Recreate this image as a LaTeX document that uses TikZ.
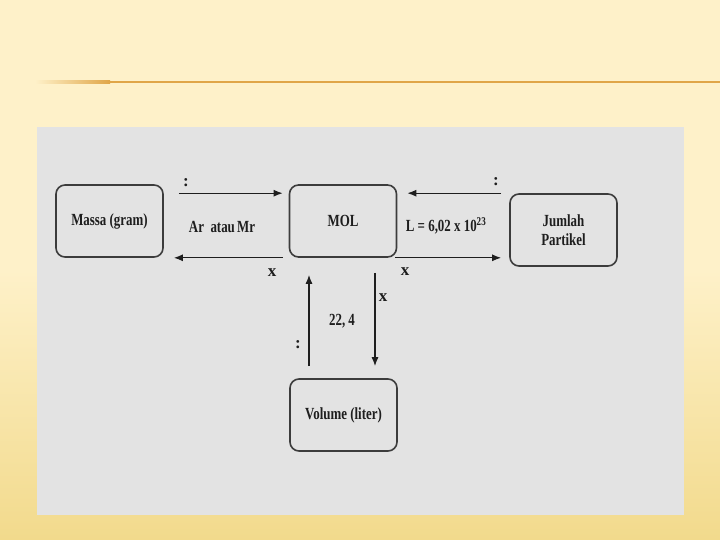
\documentclass[tikz,border=0pt]{standalone}
\usepackage{fontspec}
\usepackage{graphicx}
\setmainfont{Liberation Serif}
\usetikzlibrary{arrows.meta,calc}
\definecolor{cream}{RGB}{254,241,201}
\definecolor{creamlow}{RGB}{242,218,140}
\definecolor{panel}{RGB}{227,227,227}
\definecolor{rule}{RGB}{224,166,72}
\definecolor{ink}{RGB}{30,30,30}
\definecolor{edge}{RGB}{60,60,60}
\newcommand{\cnd}[1]{\scalebox{0.76}[1]{#1}}
\tikzset{
  x=1pt, y=1pt,
  box/.style={draw=edge, line width=1.6pt, rounded corners=9pt, minimum width=107pt, minimum height=72pt, inner sep=0pt, align=center, text=ink, font=\bfseries\fontsize{17}{20}\selectfont},
  lbl/.style={text=ink, inner sep=0pt, font=\bfseries\fontsize{17}{20}\selectfont},
  arr/.style={draw=ink, line width=1.3pt, -{Latex[length=9pt,width=7pt]}}
}
\begin{document}
\begin{tikzpicture}
\useasboundingbox (0,0) rectangle (720,-540);
% background
\shade[top color=cream, bottom color=creamlow, middle color=cream] (0,0) rectangle (720,-540);
\fill[cream] (0,0) rectangle (720,-120);
% rule line
\shade[left color=cream, right color=rule] (35,-81) rectangle (110,-83.2);
\fill[rule] (110,-81) rectangle (720,-83.2);
% panel
\fill[panel] (37,-127) rectangle (684,-515);
% boxes
\node[box] (massa) at (109.5,-221) {\cnd{Massa (gram)}};
\node[box] (mol) at (343,-221) {\cnd{MOL}};
\node[box] (jumlah) at (563.5,-230) {\cnd{Jumlah}\\[-1pt]\cnd{Partikel}};
\node[box] (volume) at (343.5,-415) {\cnd{Volume (liter)}};
% arrows massa <-> mol
\draw[arr] ([xshift=15pt,yshift=-9pt]massa.north east) -- ([xshift=-6pt,yshift=-9pt]mol.north west);
\draw[arr] ([xshift=-6pt]mol.south west) -- ([xshift=10pt]massa.south east);
% arrows mol <-> jumlah
\draw[arr] ([xshift=-8pt]jumlah.north west) -- ([xshift=10pt,yshift=-9pt]mol.north east);
\draw[arr] ([xshift=-2pt]mol.south east) -- ([xshift=-8pt]jumlah.west |- mol.south);
% arrows mol <-> volume
\draw[arr] ([xshift=-34.5pt,yshift=12pt]volume.north) -- ([xshift=-34pt,yshift=-17pt]mol.south);
\draw[arr] ([xshift=32pt,yshift=-15pt]mol.south) -- ([xshift=31.5pt,yshift=12pt]volume.north);
% labels
\node[lbl] (l1) at (186,-183) {:};
\node[lbl] (l2) at (222,-227) {\cnd{Ar\ \ atau\,Mr}};
\node[lbl] (l3) at (272,-273) {x};
\node[lbl] (l4) at (496,-182) {:};
\node[lbl] (l5) at (446,-226) {\cnd{L = 6,02 x 10\textsuperscript{23}}};
\node[lbl] (l6) at (405,-272) {x};
\node[lbl] (l7) at (298,-345) {:};
\node[lbl] (l8) at (383,-298) {x};
\node[lbl] (l9) at (342,-321) {\cnd{22, 4}};
\end{tikzpicture}
\end{document}
